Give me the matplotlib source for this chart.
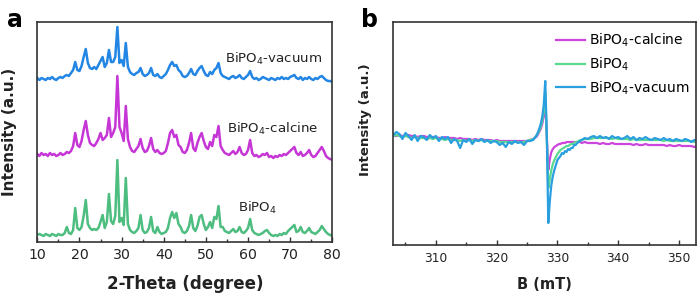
import numpy as np
import matplotlib.pyplot as plt
from matplotlib.ticker import MultipleLocator

# ---- XRD data (panel a), 2-theta grid 10..80 step 0.5 ----
two_theta = np.arange(10.0, 80.01, 0.5)

xrd_bipo4 = [
    1, 2, 1, 0, 2, 1, 0, 2, 1, 0,
    2, 1, 1, 3, 9, 3, 2, 6, 28, 8,
    6, 9, 20, 36, 12, 8, 6, 7, 6, 8,
    14, 21, 8, 14, 42, 15, 12, 20, 76, 14,
    18, 11, 58, 12, 6, 4, 3, 5, 8, 21,
    6, 3, 4, 8, 19, 5, 3, 9, 4, 2,
    3, 4, 8, 18, 24, 18, 23, 12, 9, 4,
    3, 5, 10, 21, 8, 5, 10, 19, 21, 12,
    6, 9, 14, 8, 19, 17, 30, 9, 9, 5,
    4, 3, 5, 7, 4, 5, 9, 4, 3, 5,
    8, 17, 6, 3, 2, 1, 2, 3, 5, 6,
    3, 1, 0, 1, 0, 2, 1, 3, 2, 5,
    7, 9, 11, 4, 5, 9, 4, 3, 5, 8,
    4, 3, 2, 4, 6, 10, 7, 4, 2, 1,
    0,
]

xrd_calcine = [
    1, -1, 2, 0, 1, -1, 2, 0, 1, -1,
    0, 2, 0, 1, 3, 2, 4, 9, 22, 10,
    8, 14, 25, 34, 20, 12, 10, 9, 12, 16,
    22, 15, 17, 20, 37, 18, 22, 28, 79, 28,
    22, 14, 49, 16, 8, 4, 3, 6, 9, 16,
    7, 3, 4, 9, 17, 6, 3, 5, 2, 1,
    2, 4, 12, 22, 25, 18, 20, 10, 8, 3,
    2, 5, 12, 22, 7, 4, 12, 18, 22, 14,
    8, 6, 13, 9, 20, 18, 29, 9, 5, 2,
    1, 0, 2, 4, 1, 3, 8, 2, 0, 1,
    5, 15, 2, -1, 0, -2, -1, 1, 0, 2,
    -2, -1, -3, -1, -2, 0, -1, 1, 0, 2,
    4, 6, 8, 2, 0, 3, -1, 0, 2, 5,
    0, -2, -1, 2, 5, 8, 4, -1, -3, -4,
    -5,
]

xrd_vacuum = [
    1, -1, 1, 0, -1, 1, 0, 2, 0, -1,
    1, 2, 1, 3, 4, 3, 6, 9, 17, 9,
    8, 13, 22, 30, 16, 11, 10, 12, 10, 14,
    18, 22, 12, 16, 29, 17, 17, 22, 52, 16,
    19, 13, 36, 12, 7, 5, 4, 6, 7, 11,
    5, 3, 4, 6, 11, 4, 3, 5, 2, 1,
    3, 5, 9, 14, 17, 13, 14, 9, 7, 3,
    2, 3, 6, 10, 5, 4, 8, 11, 13, 8,
    4, 3, 7, 5, 9, 11, 16, 6, 3, 2,
    1, 0, 2, 3, 1, 2, 4, 1, 0, 2,
    4, 8, 2, 0, 1, -1, 0, 2, 1, 0,
    -1, 1, 0, -1, 1, 0, 2, 0, 1, 0,
    2, 3, 4, 1, 0, 2, -1, 1, 0, 2,
    0, -1, 1, 0, 2, 3, 1, -1, -2, -2,
    -3,
]

xrd_names = ["BiPO$_4$", "BiPO$_4$-calcine", "BiPO$_4$-vacuum"]

# ---- EPR data (panel b), field in mT ----
field = np.concatenate([
    np.arange(303.0, 326.01, 0.5),
    np.arange(326.25, 333.76, 0.25),
    np.arange(334.0, 353.01, 0.5),
])

epr_vacuum = [
    4, 7, 5, 0, 6, 3, -1, 4, -2, 3,
    2, -1, 4, 1, 3, -2, 2, 0, 2, -4,
    0, -2, -9, -1, -3, 0, -5, -1, -2, 0,
    -3, -1, -4, -2, -3, -6, -4, -8, -3, -5,
    -2, -4, -3, -6, -2, -2, -1,
    1, 3, 6, 10, 15, 22, 34, 58, 5, -84,
    -62, -46, -37, -31, -26, -21, -19, -17, -14, -15,
    -12, -13, -10, -11, -9, -9, -6, -6, -4, -3,
    -2,
    -1, 1, 0, 2, 3, 1, 3, 1, 2, 0,
    3, 1, 2, 0, 1, 3, 0, 2, -1, 1,
    0, 2, 0, -1, 1, 0, -1, 1, -1, 0,
    -2, 0, -1, -2, 0, -1, -3, -1, -2,
]

epr_bipo4 = [
    3, 4, 3, 2, 3, 2, 1, 2, 1, 1,
    1, 0, 1, 0, 1, 0, 0, -1, 0, -1,
    -1, -1, -2, -1, -2, -1, -2, -1, -2, -1,
    -2, -2, -2, -2, -2, -3, -3, -3, -3, -3,
    -3, -3, -3, -3, -2, -1, 0,
    1, 3, 5, 8, 12, 18, 28, 46, 2, -49,
    -40, -31, -25, -21, -18, -15, -13, -11, -10, -9,
    -8, -7, -7, -6, -5, -5, -4, -3, -3, -2,
    -1,
    -1, 0, 0, 0, 1, 1, 1, 1, 1, 1,
    0, 1, 0, 0, 0, 0, -1, 0, -1, -1,
    -1, -1, -1, -1, -1, -1, -1, -2, -1, -2,
    -2, -2, -2, -2, -2, -2, -2, -3, -2,
]

epr_calcine = [
    3, 3, 4, 3, 3, 4, 3, 3, 2, 3,
    3, 2, 2, 2, 2, 1, 1, 2, 1, 1,
    1, 0, 1, 0, 0, 0, -1, 0, -1, 0,
    -1, -1, -1, -2, -1, -2, -2, -2, -2, -2,
    -2, -2, -2, -2, -2, -1, 0,
    1, 2, 4, 7, 10, 15, 23, 38, 3, -31,
    -20, -13, -10, -8, -7, -6, -5, -5, -4, -4,
    -4, -3, -3, -3, -3, -3, -3, -3, -3, -3,
    -3,
    -4, -3, -4, -4, -4, -4, -5, -4, -5, -5,
    -4, -5, -5, -5, -5, -5, -5, -6, -5, -6,
    -6, -5, -6, -6, -6, -6, -6, -6, -7, -6,
    -7, -7, -6, -7, -7, -7, -7, -8, -7,
]

epr_names = ["BiPO$_4$-calcine", "BiPO$_4$", "BiPO$_4$-vacuum"]

# ---- figure ----
fig = plt.figure(figsize=(7.0, 2.96), dpi=100)
ax1 = fig.add_axes([37.3 / 700, 54.5 / 296, 295 / 700, 219.5 / 296])
ax2 = fig.add_axes([392.7 / 700, 51 / 296, 303.3 / 700, 223 / 296])

spine_col = "#333333"
for ax in (ax1, ax2):
    for s in ax.spines.values():
        s.set_color(spine_col)
        s.set_linewidth(1.2)
    ax.set_yticks([])
    ax.tick_params(axis="x", which="both", direction="in", top=False,
                   color=spine_col, width=1.0)
    ax.tick_params(axis="x", which="major", length=3.5)
    ax.tick_params(axis="x", which="minor", length=2.5)

# panel a
xrd_colors = ["#4dbd80", "#c636d6", "#2486e4"]
xrd_offsets = [0, 81, 157]
for vals, col, off in zip([xrd_bipo4, xrd_calcine, xrd_vacuum], xrd_colors, xrd_offsets):
    ax1.plot(two_theta, np.array(vals) + off, color=col, lw=1.8)
ax1.set_xlim(10, 80)
ax1.set_ylim(-5.5, 214)
ax1.xaxis.set_major_locator(MultipleLocator(10))
ax1.xaxis.set_minor_locator(MultipleLocator(5))
ax1.tick_params(axis="x", labelsize=10.2, pad=5, labelcolor="#222222")
ax1.set_xlabel("2-Theta (degree)", fontsize=12, fontweight="bold", color="#222222")
ax1.xaxis.set_label_coords(0.5, -0.153)
ax1.xaxis.label.set_va("top")
ax1.set_ylabel("Intensity (a.u.)", fontsize=11, fontweight="bold", color="#222222")
ax1.yaxis.set_label_coords(-0.069, 0.5)

ax1.text(0.636, 0.813, xrd_names[2], transform=ax1.transAxes, fontsize=9.6,
         va="baseline", color="#222222")
ax1.text(0.643, 0.496, xrd_names[1], transform=ax1.transAxes, fontsize=9.6,
         va="baseline", color="#222222")
ax1.text(0.680, 0.133, xrd_names[0], transform=ax1.transAxes, fontsize=9.6,
         va="baseline", color="#222222")

# panel b
epr_colors = ["#cc45dc", "#5bd88f", "#2a9fe0"]
for vals, col, name in zip([epr_calcine, epr_bipo4, epr_vacuum], epr_colors, epr_names):
    ax2.plot(field, vals, color=col, lw=1.6, label=name)
ax2.set_xlim(302.9, 352.8)
ax2.set_ylim(-106, 117)
ax2.xaxis.set_major_locator(MultipleLocator(10))
ax2.xaxis.set_minor_locator(MultipleLocator(5))
ax2.tick_params(axis="x", labelsize=8.8, pad=5, labelcolor="#222222")
ax2.set_xlabel("B (mT)", fontsize=10.5, fontweight="bold", color="#222222")
ax2.xaxis.set_label_coords(0.5, -0.142)
ax2.xaxis.label.set_va("top")
ax2.set_ylabel("Intensity (a.u.)", fontsize=9.6, fontweight="bold", color="#222222")
ax2.yaxis.set_label_coords(-0.068, 0.56)

ax2.legend(loc="upper left", bbox_to_anchor=(0.538, 0.955), frameon=False,
           fontsize=10, handlelength=2.1, handletextpad=0.3, labelspacing=0.45,
           borderpad=0, borderaxespad=0)

fig.text(7 / 700, 1 - 27 / 296, "a", fontsize=17, fontweight="bold", va="baseline")
fig.text(361 / 700, 1 - 27 / 296, "b", fontsize=17, fontweight="bold", va="baseline")

fig.savefig("out.png", dpi=100)
